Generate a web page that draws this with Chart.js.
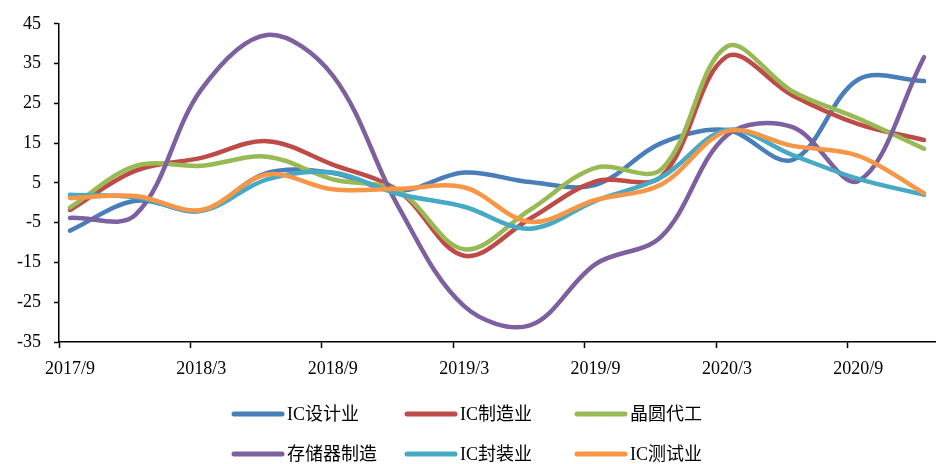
<!DOCTYPE html>
<html>
<head>
<meta charset="utf-8">
<script src="https://cdn.jsdelivr.net/npm/chart.js@4/dist/chart.umd.min.js"></script>
<style>
  html, body { margin: 0; padding: 0; background: #fff; }
  #wrap { width: 940px; height: 464px; }
</style>
</head>
<body>
<div id="wrap"><canvas id="chart" width="940" height="464"></canvas></div>
<script>
// quarterly data points, plotted on a monthly axis
const quarters = ['2017/9', '2017/12', '2018/3', '2018/6', '2018/9', '2018/12', '2019/3',
  '2019/6', '2019/9', '2019/12', '2020/3', '2020/6', '2020/9', '2020/12'];

const seriesNames = ['IC设计业', 'IC制造业', '晶圆代工', '存储器制造', 'IC封装业', 'IC测试业'];
const seriesColors = ['#4a7ebb', '#be4b48', '#98b954', '#7d60a0', '#46aac5', '#f79646'];

const icDesign    = [-7, 0.5, -2, 7.5, 7.5, 3, 7.6, 5.2, 4.5, 15, 18.3, 10.8, 31, 30.6];
const icMfg       = [-1.8, 8.1, 11.3, 15.5, 9.6, 3, -13.3, -4, 5.4, 6.6, 36.8, 27, 19.8, 15.8];
const foundry     = [-1.2, 9.3, 9.3, 11.6, 5.9, 3, -11.7, -1.8, 8.8, 8.4, 39.3, 28, 21.2, 13.6];
const memory      = [-3.8, -3, 28.5, 42.2, 32, -1, -26, -30.8, -15.4, -8.5, 17, 19, 5.5, 36.6];
const icPackaging = [2, 1.4, -2, 5.9, 7.6, 2.2, -1, -6.5, 0.5, 6.4, 18.3, 12, 6, 2];
const icTesting   = [1.2, 1.7, -1.8, 7.1, 3.4, 3.5, 3.9, -4.8, 0.7, 4.6, 18, 14.3, 11.8, 2.4];

const allSeries = [icDesign, icMfg, foundry, memory, icPackaging, icTesting];

// monthly category axis 2017/9 .. 2020/12
const months = [];
for (let y = 2017, m = 9; y < 2021; ) {
  months.push(y + '/' + m);
  m++;
  if (m > 12) { m = 1; y++; }
}

function toMonthly(values) {
  const out = months.map(() => null);
  quarters.forEach((q, i) => { out[months.indexOf(q)] = values[i]; });
  return out;
}

const FONT = "'Liberation Serif', 'Times New Roman', 'Noto Sans CJK SC', serif";

const legendPlugin = {
  id: 'gridLegend',
  afterDraw(chart) {
    const ctx = chart.ctx;
    const cols = [232, 405, 575];
    const rows = [414, 454];
    ctx.save();
    ctx.font = '18px ' + FONT;
    ctx.textBaseline = 'middle';
    ctx.fillStyle = '#000';
    chart.data.datasets.forEach((ds, i) => {
      const x = cols[i % 3];
      const y = rows[Math.floor(i / 3)];
      ctx.strokeStyle = ds.borderColor;
      ctx.lineWidth = 5;
      ctx.lineCap = 'round';
      ctx.beginPath();
      ctx.moveTo(x + 2, y);
      ctx.lineTo(x + 50, y);
      ctx.stroke();
      ctx.fillText(ds.label, x + 55, y + 1);
    });
    ctx.restore();
  }
};

new Chart(document.getElementById('chart'), {
  type: 'line',
  data: {
    labels: months,
    datasets: allSeries.map((vals, i) => ({
      label: seriesNames[i],
      data: toMonthly(vals),
      borderColor: seriesColors[i],
      backgroundColor: seriesColors[i],
      borderWidth: 4.5,
      borderCapStyle: 'round',
      pointRadius: 0,
      tension: 0.35,
      spanGaps: true,
      fill: false,
      order: allSeries.length - i,
    }))
  },
  options: {
    responsive: false,
    animation: false,
    layout: { padding: { top: 19, right: 5, bottom: 82, left: 0 } },
    plugins: {
      legend: { display: false },
      tooltip: { enabled: false },
    },
    scales: {
      x: {
        offset: true,
        afterFit(scale) { scale.height = 40; },
        border: { display: true, color: '#000', width: 1.5 },
        grid: {
          offset: true,
          drawOnChartArea: false,
          tickLength: 6,
          tickWidth: 1.5,
          tickColor: (c) => (c.index % 6 === 0 ? '#000' : 'rgba(0,0,0,0)'),
        },
        ticks: {
          autoSkip: false,
          maxRotation: 0,
          padding: 10,
          color: '#000',
          font: { family: FONT, size: 18 },
          callback: (v, i) => (i % 6 === 0 ? months[i] : ''),
        },
      },
      y: {
        min: -35,
        max: 45,
        afterFit(scale) { scale.width = 59; },
        border: { display: true, color: '#000', width: 1.5 },
        grid: {
          drawOnChartArea: false,
          tickLength: 5,
          tickWidth: 1.5,
          tickColor: '#000',
        },
        ticks: {
          stepSize: 10,
          padding: 13,
          color: '#000',
          font: { family: FONT, size: 18 },
        },
      },
    },
  },
  plugins: [legendPlugin],
});
</script>
</body>
</html>
